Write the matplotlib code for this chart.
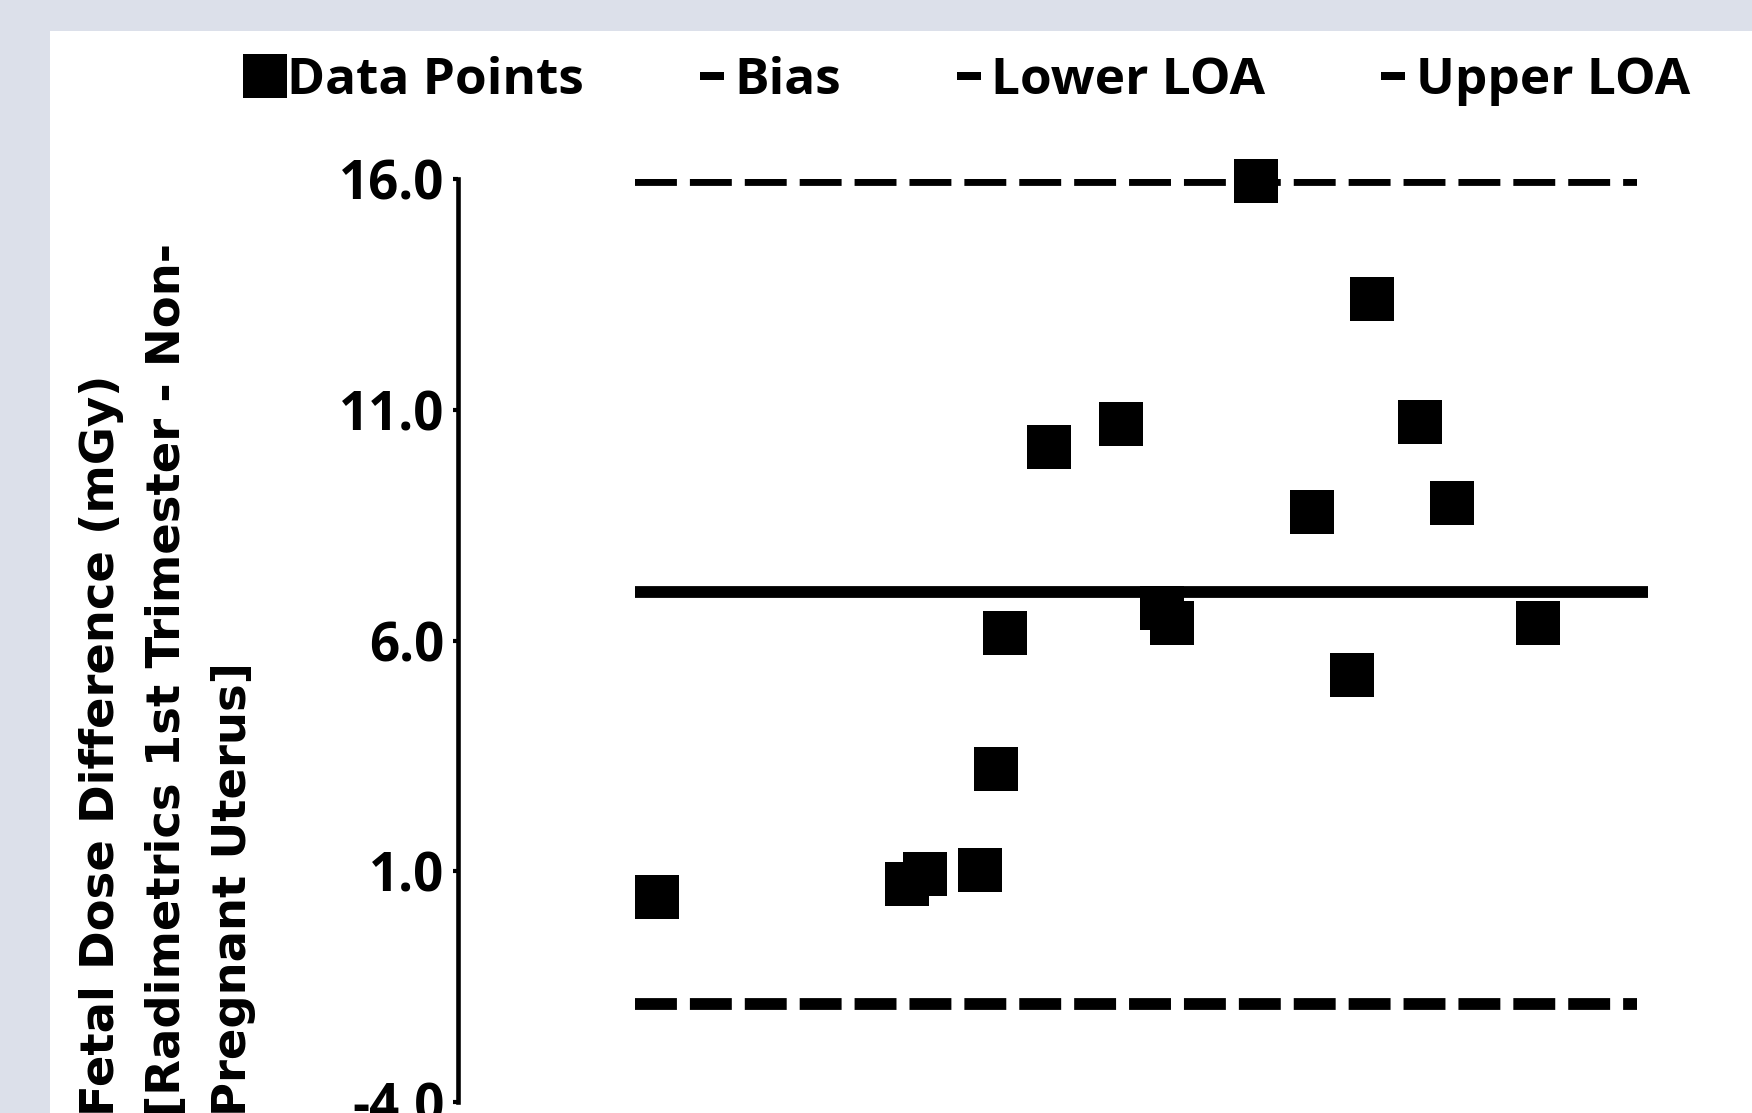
import matplotlib
matplotlib.use("Agg")
import matplotlib.pyplot as plt
from matplotlib.lines import Line2D
from matplotlib.patches import Rectangle

# Bland-Altman data (x = mean dose, y = difference)
mean_dose = [3.07, 6.94, 7.22, 8.07, 8.31, 8.45, 9.14, 10.24, 10.88, 11.04,
             12.33, 13.20, 13.82, 14.13, 14.87, 15.37, 16.70]
dose_diff = [0.44, 0.73, 0.93, 1.02, 3.22, 6.17, 10.20, 10.69, 6.70, 6.39,
             15.95, 8.78, 5.25, 13.39, 10.73, 8.97, 6.39]

bias = 7.06
lower_loa = -1.87
upper_loa = 15.97
line_x = [2.73, 18.22]
bias_x = [2.73, 18.39]

y_ticks = [-4.0, 1.0, 6.0, 11.0, 16.0]
y_tick_labels = ["-4.0", "1.0", "6.0", "11.0", "16.0"]
legend_labels = ["Data Points", "Bias", "Lower LOA", "Upper LOA"]
y_label = "Fetal Dose Difference (mGy)\n[Radimetrics 1st Trimester - Non-\nPregnant Uterus]"

W, H = 1752, 1113
fig = plt.figure(figsize=(W / 100, H / 100), dpi=100, facecolor="#dce0ea")
fig.add_artist(Rectangle((50 / W, 0), 1, 1 - 31 / H, transform=fig.transFigure,
                         facecolor="white", edgecolor="none", zorder=0))

ax = fig.add_axes([458 / W, (H - 1102) / H, 1 - 458 / W, (1102 - 179) / H])
ax.set_facecolor("none")

lw = 8.5
dash = (3.55, 1.1)
ax.plot(line_x, [upper_loa, upper_loa], color="black", lw=lw, ls=(0, dash),
        dash_capstyle="butt", zorder=2)
ax.plot(line_x, [lower_loa, lower_loa], color="black", lw=lw, ls=(0, dash),
        dash_capstyle="butt", zorder=2)
ax.plot(bias_x, [bias, bias], color="black", lw=lw, solid_capstyle="butt", zorder=2)
ax.plot(mean_dose, dose_diff, "s", color="black", ms=32, mew=0, zorder=3, clip_on=False)

ax.set_xlim(0, 20)
ax.set_ylim(-4, 16)
ax.set_yticks(y_ticks)
ax.set_yticklabels(y_tick_labels, fontfamily="Open Sans", fontweight="bold", fontsize=38)
ax.tick_params(axis="y", length=3.6, width=3, pad=6, color="black")
ax.set_xticks([])
for side in ["top", "right", "bottom"]:
    ax.spines[side].set_visible(False)
ax.spines["left"].set_linewidth(3.3)

fig.text(168 / W, 1 - 1116 / H, y_label, rotation=90, rotation_mode="anchor",
         ha="left", va="center", multialignment="left", linespacing=1.6,
         fontfamily="DejaVu Sans", fontweight="bold", fontsize=33.5)

rect = [(-1.5, -0.5), (1.5, -0.5), (1.5, 0.5), (-1.5, 0.5)]
handles = [Line2D([], [], ls="none", marker="s", ms=32, mew=0, color="black")]
for _ in range(3):
    handles.append(Line2D([], [], ls="none", marker=rect, ms=17, mew=0, color="black"))
fs = 37
fig.legend(handles, legend_labels, loc="center left",
           bbox_to_anchor=(242 / W, 1 - 81 / H), ncol=4, frameon=False,
           borderpad=0, borderaxespad=0, handlelength=45 / (fs * 100 / 72),
           handletextpad=0.0, columnspacing=2.05,
           prop={"family": "Open Sans", "weight": "bold", "size": fs})

plt.savefig("out.png", dpi=100, facecolor=fig.get_facecolor())
